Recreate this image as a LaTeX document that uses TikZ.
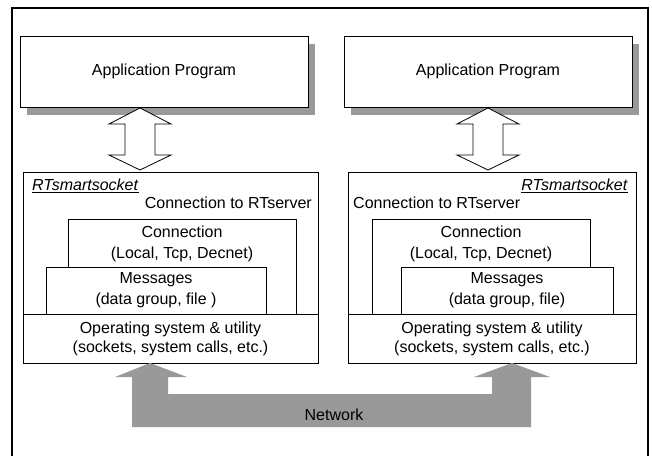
\documentclass[tikz,border=0pt]{standalone}
\usepackage{fontspec}
\setmainfont{Liberation Sans}
\usetikzlibrary{shadows}
\begin{document}
\begin{tikzpicture}[x=1pt,y=-1pt,
		box/.style={draw,fill=white,line width=0.8pt,inner sep=0pt,font=\fontsize{16}{21}\selectfont,align=center},
		appbox/.style={box,minimum width=288pt,minimum height=71pt,
			drop shadow={shadow xshift=7pt,shadow yshift=-8pt,fill=black!40,opacity=1}},
		txt/.style={inner sep=0pt,font=\fontsize{16}{21}\selectfont,align=center},
		updown/.style={draw,fill=white,line width=0.8pt},
		net/.style={fill=black!40}]
	\useasboundingbox (0,0) rectangle (652,455);

	\draw[line width=1.2pt] (12,470) -- (12,8) -- (648,8) -- (648,470);

	\node[appbox] (app1) at (164,71.5) {Application Program};
	\node[appbox] (app2) at (488,71.5) {Application Program};

	\foreach \c in {140,488}
	\draw[updown] (\c,108) -- (\c+31,124) -- (\c+15,124) -- (\c+15,155) -- (\c+31,155) -- (\c,170)
		-- (\c-31,155) -- (\c-15,155) -- (\c-15,124) -- (\c-31,124) -- cycle;

	\node[box,minimum width=295pt,minimum height=191pt] (rtss1) at (170.5,267.5) {};
	\node[box,minimum width=288pt,minimum height=191pt] (rtss2) at (492,267.5) {};

	\node[txt,anchor=west] (name1) at (32,186) {\underline{\textit{RTsmartsocket}}};
	\node[txt,anchor=east] (name2) at (628,186) {\underline{\textit{RTsmartsocket}}};
	\node[txt,anchor=east] (srv1) at (312,203) {Connection to RTserver};
	\node[txt,anchor=west] (srv2) at (353,203) {Connection to RTserver};

	\node[box,minimum width=228pt,minimum height=95pt] (conn1) at (182,266.5) {};
	\node[box,minimum width=218pt,minimum height=95pt] (conn2) at (481,266.5) {};
	\node[txt] (conn1txt) at (182,243.5) {Connection\\(Local, Tcp, Decnet)};
	\node[txt] (conn2txt) at (481,243.5) {Connection\\(Local, Tcp, Decnet)};

	\node[box,minimum width=220pt,minimum height=47pt] (msg1) at (156,290.5) {Messages\\(data group, file )};
	\node[box,minimum width=212pt,minimum height=47pt] (msg2) at (507,290.5) {Messages\\(data group, file)};

	\node[box,minimum width=295pt,minimum height=49pt,font=\fontsize{16}{19}\selectfont] (os1) at (170.5,338.5)
		{Operating system \& utility\\(sockets, system calls, etc.)};
	\node[box,minimum width=288pt,minimum height=49pt,font=\fontsize{16}{19}\selectfont] (os2) at (492,338.5)
		{Operating system \& utility\\(sockets, system calls, etc.)};

	\fill[net] (150,363) -- (187,377) -- (168,377) -- (168,394) -- (492,394) -- (492,377) -- (474,377)
		-- (512,363) -- (550,377) -- (531,377) -- (531,427) -- (132,427) -- (132,377) -- (115,377) -- cycle;
	\node[txt] (network) at (334,415) {Network};
\end{tikzpicture}
\end{document}
